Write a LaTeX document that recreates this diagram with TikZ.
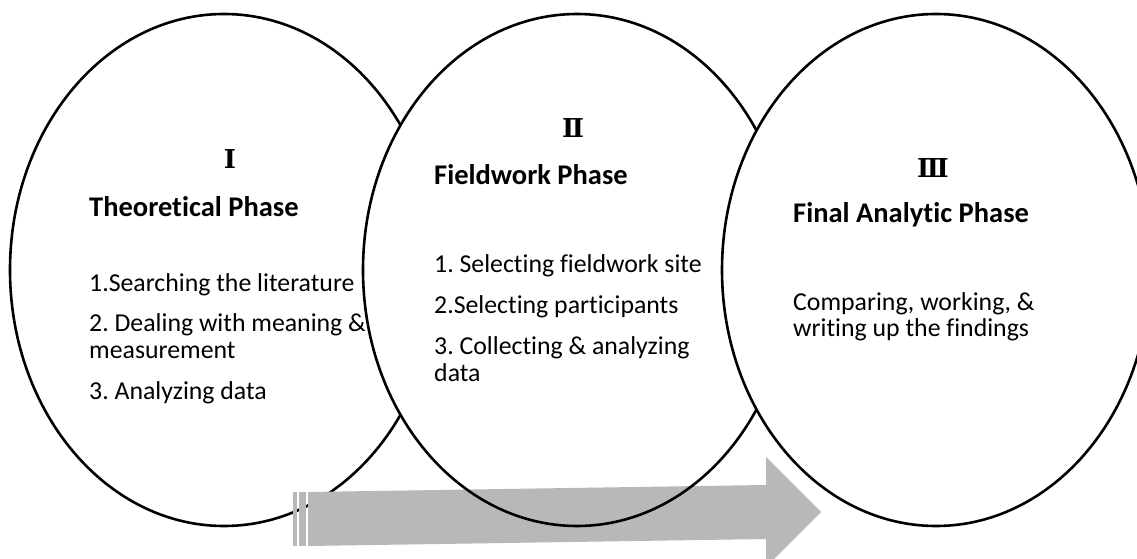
\documentclass[tikz,border=0pt]{standalone}
\usepackage{fontspec}
\setmainfont[Ligatures=NoCommon]{Carlito}
\newfontfamily\numfont{DejaVu Serif}

\tikzset{
  phase/.style={draw=black, line width=2.6pt},
  numeral/.style={font=\numfont\bfseries\fontsize{26}{30}\selectfont},
  heading/.style={anchor=base west, inner sep=0pt, font=\bfseries\fontsize{28.5}{32}\selectfont},
  item/.style={anchor=base west, inner sep=0pt, font=\fontsize{25.8}{28}\selectfont}
}
\definecolor{arrowgray}{HTML}{B8B8B8}

\begin{document}
\frenchspacing
\begin{tikzpicture}[x=1pt, y=-1pt]
  % page frame
  \clip (0,0) rectangle (1137,559);
  \fill[white] (0,0) rectangle (1137,559);

  % the three phases, left to right
  \coordinate (cI) at (224,270);
  \coordinate (cII) at (577,270);
  \coordinate (cIII) at (936,270);
  \fill[white] (cI) ellipse (214 and 256);
  \draw[phase] (cI) ellipse (214 and 256);
  \fill[white] (cII) ellipse (214 and 256);

  % big arrow with the striped tail
  \fill[arrowgray] (293,492) rectangle (297,546);
  \fill[arrowgray] (299,492) rectangle (306,546);
  \fill[arrowgray] (308,492) -- (766,485) -- (766,457) -- (821,512)
    -- (766,567) -- (766,539) -- (308,546) -- cycle;

  \draw[phase] (cII) ellipse (214 and 256);
  \fill[white] (cIII) ellipse (214 and 256);
  \draw[phase] (cIII) ellipse (214 and 256);

  % I
  \node[numeral] (numI) at (230,159) {Ⅰ};
  \node[heading] (headI) at (89,216) {Theoretical Phase};
  \node[item] (itemIa) at (89,291) {1.Searching the literature};
  \node[item] (itemIb) at (89,331) {2. Dealing with meaning \&};
  \node[item] (itemIc) at (89,358) {measurement};
  \node[item] (itemId) at (89,399) {3. Analyzing data};

  % II
  \node[numeral] (numII) at (573,128) {Ⅱ};
  \node[heading] (headII) at (434,184) {Fieldwork Phase};
  \node[item] (itemIIa) at (434,272) {1. Selecting fieldwork site};
  \node[item] (itemIIb) at (434,313) {2.Selecting participants};
  \node[item] (itemIIc) at (434,354) {3. Collecting \& analyzing};
  \node[item] (itemIId) at (434,381) {data};

  % III
  \node[numeral] (numIII) at (933,168) {Ⅲ};
  \node[heading] (headIII) at (793,222) {Final Analytic Phase};
  \node[item] (itemIIIa) at (793,310) {Comparing, working, \&};
  \node[item] (itemIIIb) at (793,336) {writing up the findings};
\end{tikzpicture}
\end{document}
